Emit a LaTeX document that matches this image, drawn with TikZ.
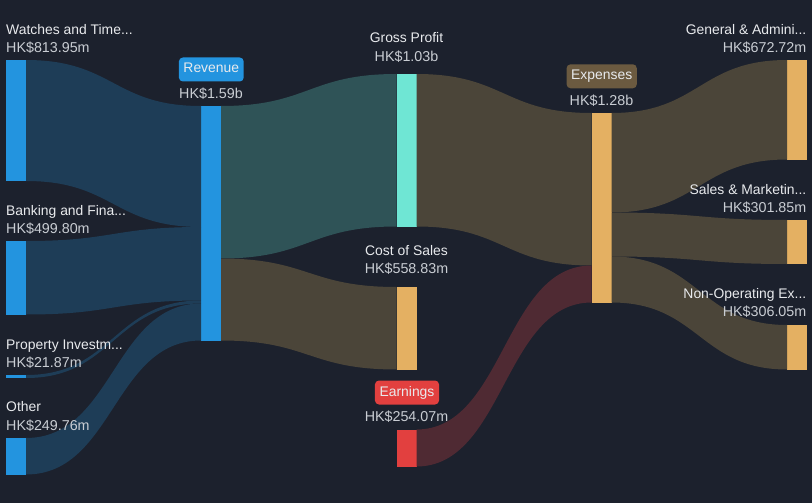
\documentclass[tikz,border=0pt]{standalone}
\usepackage{fontspec}
\setmainfont{Liberation Sans}
\definecolor{bg}{HTML}{1C212D}
\definecolor{barblue}{HTML}{2394DF}
\definecolor{barteal}{HTML}{6FE6D4}
\definecolor{barorange}{HTML}{E4B062}
\definecolor{barred}{HTML}{E2403F}
\definecolor{flowblue}{HTML}{1E3D57}
\definecolor{flowteal}{HTML}{2F5357}
\definecolor{flowbrown}{HTML}{4B4539}
\definecolor{flowred}{HTML}{4F2A33}
\definecolor{tagbrown}{HTML}{6B5A40}
\definecolor{textwhite}{HTML}{E8EAED}
\definecolor{textgray}{HTML}{C9CDD3}

\begin{document}
\begin{tikzpicture}
[x=1pt,y=-1pt,%
  bar/.style={shape=rectangle,inner sep=0pt,outer sep=0pt,minimum width=20pt},%
  lbl/.style={text=textwhite,inner sep=0pt,font=\fontsize{13.9}{16}\selectfont},%
  val/.style={lbl,text=textgray,font=\fontsize{14.3}{16}\selectfont},%
  tag/.style={lbl,rounded corners=4pt,minimum height=24pt,inner xsep=4.6pt,text height=10pt,text depth=3pt}]
\fill[bg] (0,0) rectangle (812,503);
\useasboundingbox (0,0) rectangle (812,503);
%% bars
\foreach \name/\x/\top/\bot/\col in {wat/16/60/181/barblue, ban/16/241/314.5/barblue,
  pro/16/375/378/barblue, oth/16/438/474.5/barblue, rev/211/106/340.5/barblue,
  gp/406.5/74/226.5/barteal, cos/406.5/287/369.5/barorange, ear/406.5/429.5/466.5/barred,
  exp/601.5/113/302.5/barorange, ga/797/60/159.5/barorange, sm/797/220/264/barorange,
  nop/797/325/369.5/barorange}
{
  \node[bar,fill=\col,minimum height={(\bot-\top)*1pt}] (\name) at (\x,{(\top+\bot)/2}) {};
}
%% split points
\coordinate (revW1) at (201,227);
\coordinate (revW2) at (201,300.5);
\coordinate (revW3) at (201,303.5);
\coordinate (revE1) at (221,258.5);
\coordinate (expW1) at (591.5,265.5);
\coordinate (expE1) at (611.5,212.5);
\coordinate (expE2) at (611.5,256.5);
%% flows
\foreach \a/\b/\c/\d/\col in {wat.north east/rev.north west/revW1/wat.south east/flowblue,
  ban.north east/revW1/revW2/ban.south east/flowblue,
  pro.north east/revW2/revW3/pro.south east/flowblue,
  oth.north east/revW3/rev.south west/oth.south east/flowblue,
  rev.north east/gp.north west/gp.south west/revE1/flowteal,
  revE1/cos.north west/cos.south west/rev.south east/flowbrown,
  gp.north east/exp.north west/expW1/gp.south east/flowbrown,
  ear.north east/expW1/exp.south west/ear.south east/flowred,
  exp.north east/ga.north west/ga.south west/expE1/flowbrown,
  expE1/sm.north west/sm.south west/expE2/flowbrown,
  expE2/nop.north west/nop.south west/exp.south east/flowbrown}
{
  \fill[\col] (\a) .. controls +(87.5,0) and +(-87.5,0) .. (\b)
    -- (\c) .. controls +(-87.5,0) and +(87.5,0) .. (\d) -- cycle;
}
%% left labels
\node[lbl,anchor=base west] (watN) at (6,34.3) {Watches and Time...};
\node[val,anchor=base west] (watV) at (6,52.7) {HK\$813.95m};
\node[lbl,anchor=base west] (banN) at (6,215) {Banking and Fina...};
\node[val,anchor=base west] (banV) at (6,233) {HK\$499.80m};
\node[lbl,anchor=base west] (proN) at (6,349) {Property Investm...};
\node[val,anchor=base west] (proV) at (6,367.7) {HK\$21.87m};
\node[lbl,anchor=base west] (othN) at (6,411.7) {Other};
\node[val,anchor=base west] (othV) at (6,430.7) {HK\$249.76m};
%% middle labels
\node[tag,fill=barblue] (revT) at (211.3,69.5) {Revenue};
\node[val,anchor=base] (revV) at (211,99) {HK\$1.59b};
\node[lbl,anchor=base] (gpN) at (406.5,42.7) {Gross Profit};
\node[val,anchor=base] (gpV) at (406.5,61.7) {HK\$1.03b};
\node[lbl,anchor=base] (cosN) at (406.5,255) {Cost of Sales};
\node[val,anchor=base] (cosV) at (406.5,273.3) {HK\$558.83m};
\node[tag,fill=barred] (earT) at (407,392.5) {Earnings};
\node[val,anchor=base] (earV) at (406.5,421.7) {HK\$254.07m};
\node[tag,fill=tagbrown] (expT) at (601.7,76.3) {Expenses};
\node[val,anchor=base] (expV) at (601.5,106) {HK\$1.28b};
%% right labels
\node[lbl,anchor=base east] (gaN) at (806.5,34.3) {General \& Admini...};
\node[val,anchor=base east] (gaV) at (806.5,52.7) {HK\$672.72m};
\node[lbl,anchor=base east] (smN) at (806.5,194.3) {Sales \& Marketin...};
\node[val,anchor=base east] (smV) at (806.5,212.7) {HK\$301.85m};
\node[lbl,anchor=base east] (nopN) at (806.5,298.3) {Non-Operating Ex...};
\node[val,anchor=base east] (nopV) at (806.5,316.7) {HK\$306.05m};
\end{tikzpicture}
\end{document}
